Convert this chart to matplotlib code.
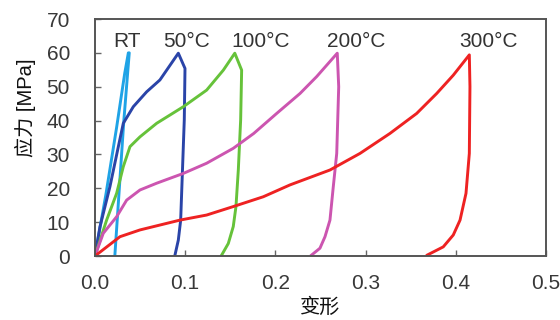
import matplotlib
matplotlib.use("Agg")
import matplotlib.pyplot as plt

plt.rcParams['font.family'] = ['Liberation Sans', 'Noto Sans CJK SC', 'DejaVu Sans']

# Strain (变形) and stress (应力, MPa)
rt_x = [0.0, 0.012, 0.024, 0.033, 0.037, 0.038, 0.032, 0.027, 0.022]
rt_y = [0.0, 18.0, 38.0, 54.0, 60.0, 60.0, 40.0, 20.0, 0.0]

t50_x = [0.0, 0.0055, 0.0166, 0.0259, 0.0314, 0.0425, 0.0573, 0.072, 0.0924,
         0.0998, 0.099, 0.097, 0.095, 0.0924, 0.0887]
t50_y = [0.0, 8.6, 20.5, 32.3, 39.2, 44.1, 48.5, 52.0, 59.9,
         55.4, 40.2, 25.4, 10.6, 4.7, 0.3]

t100_x = [0.0, 0.0129, 0.024, 0.0314, 0.0388, 0.0499, 0.0684, 0.098, 0.1238, 0.1423, 0.155,
          0.1626, 0.1615, 0.1589, 0.1563, 0.1533, 0.1478, 0.1405]
t100_y = [0.0, 10.6, 18.5, 26.4, 32.3, 35.2, 39.2, 44.1, 49.0, 54.9, 59.9,
          54.9, 40.2, 25.4, 14.6, 8.7, 3.7, 0.3]

t200_x = [0.0, 0.0092, 0.024, 0.0351, 0.0499, 0.0684, 0.098, 0.1238, 0.1533, 0.176, 0.2014,
          0.2273, 0.2458, 0.2686, 0.2702, 0.268, 0.2642, 0.2605, 0.255, 0.2494, 0.2402]
t200_y = [0.0, 6.7, 11.6, 16.5, 19.5, 21.5, 24.4, 27.4, 31.8, 36.2, 42.1,
          48.0, 53.0, 59.9, 50.0, 30.3, 20.5, 10.6, 5.7, 2.3, 0.3]

t300_x = [0.0, 0.0277, 0.0499, 0.0942, 0.1238, 0.1533, 0.1866, 0.2162, 0.2605, 0.2938, 0.327,
          0.3566, 0.3788, 0.3972, 0.415, 0.4157, 0.415, 0.4113, 0.4047, 0.3972, 0.3861, 0.3685]
t300_y = [0.0, 5.7, 7.7, 10.6, 12.1, 14.6, 17.5, 21.0, 25.4, 30.3, 36.2,
          42.1, 48.0, 53.4, 59.4, 50.0, 30.3, 18.5, 10.6, 6.2, 2.7, 0.3]

labels = ["RT", "50°C", "100°C", "200°C", "300°C"]
label_x = [0.036, 0.1016, 0.184, 0.290, 0.436]
label_y = [63.3, 63.3, 63.3, 63.3, 63.3]
colors = ["#1fa3e6", "#2a44a8", "#66c23a", "#cc55b0", "#ee2222"]

xticks = [0.0, 0.1, 0.2, 0.3, 0.4, 0.5]
yticks = [0, 10, 20, 30, 40, 50, 60, 70]

fig = plt.figure(figsize=(5.6, 3.2), dpi=100)
ax = fig.add_axes([0.1696, 0.2, 0.8054, 0.7406])

series = [(rt_x, rt_y), (t50_x, t50_y), (t100_x, t100_y), (t200_x, t200_y), (t300_x, t300_y)]
for (xs, ys), c in zip(series, colors):
    ax.plot(xs, ys, color=c, lw=2.1, solid_joinstyle='round')

for lab, lx, ly in zip(labels, label_x, label_y):
    ax.text(lx, ly, lab, ha='center', va='center', fontsize=15, color='#333333')

ax.set_xlim(0, 0.5)
ax.set_ylim(0, 70)
ax.set_xticks(xticks)
ax.set_xticklabels([f"{v:.1f}" for v in xticks])
ax.set_yticks(yticks)
ax.tick_params(direction='in', length=4, width=1, color='#666666',
               labelsize=15, labelcolor='#383838')
ax.tick_params(axis='y', pad=18)
ax.tick_params(axis='x', pad=13)
for s in ax.spines.values():
    s.set_color('#555555')
    s.set_linewidth(1.4)

fig.text(320 / 560, 1 - 307 / 320, "变形", ha='center', va='center',
         fontsize=14.5, color='#111111')
fig.text(25 / 560, 1 - 108 / 320, "应力 [MPa]", ha='center', va='center',
         rotation=90, fontsize=14.5, color='#111111')

fig.savefig("out.png", dpi=100)
